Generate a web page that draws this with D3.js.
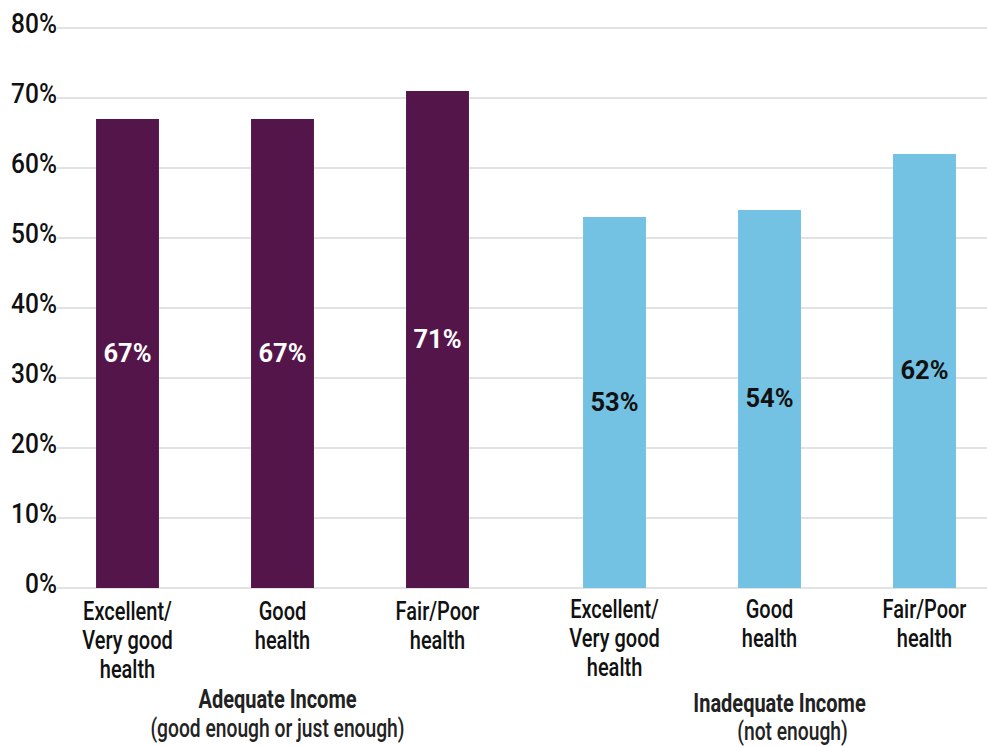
<!DOCTYPE html>
<html>
<head>
<meta charset="utf-8">
<script src="https://cdn.jsdelivr.net/npm/d3@7"></script>
<style>
  html, body { margin: 0; padding: 0; background: #fff; }
  svg text { font-family: "Roboto", "DejaVu Sans Condensed", sans-serif; }
</style>
</head>
<body>
<svg id="chart" width="987" height="747"></svg>
<script>
// Share of respondents, by income adequacy and self-rated health
const groups = ["Adequate Income", "Inadequate Income"];
const groupNotes = ["(good enough or just enough)", "(not enough)"];
const categories = ["Excellent/\nVery good\nhealth", "Good\nhealth", "Fair/Poor\nhealth"];
const adequateValues = [67, 67, 71];
const inadequateValues = [53, 54, 62];
const yTicks = [0, 10, 20, 30, 40, 50, 60, 70, 80];

const seriesValues = [adequateValues, inadequateValues];
const barColors = ["#54164a", "#74c2e3"];
const labelColors = ["#ffffff", "#111111"];

const svg = d3.select("#chart");
const plotLeft = 57, plotRight = 987, plotTop = 28, plotBottom = 588;

const y = d3.scaleLinear().domain([0, 80]).range([plotBottom, plotTop]);

// Outer scale places the two income groups, inner scale the health categories
const xGroup = d3.scaleBand().domain(groups).range([50, 1002]).paddingInner(0.0452).paddingOuter(0);
const xCat = d3.scaleBand().domain(categories).range([0, xGroup.bandwidth()])
  .paddingInner(0.594).paddingOuter(0.297);

// Condensed text: Roboto squeezed horizontally around its anchor point
function condensedText(parent, x, yPos, sx) {
  return parent.append("text")
    .attr("transform", `translate(${x},${yPos}) scale(${sx},1)`);
}

// Gridlines
svg.append("g")
  .selectAll("line")
  .data(yTicks)
  .join("line")
  .attr("x1", plotLeft).attr("x2", plotRight)
  .attr("y1", d => y(d)).attr("y2", d => y(d))
  .attr("stroke", "#d9d9d9").attr("stroke-width", 1.5);

// Y axis labels
const yAxisG = svg.append("g");
yTicks.forEach(t => {
  condensedText(yAxisG, plotLeft, y(t) + 4.5, 0.86)
    .attr("text-anchor", "end")
    .attr("font-size", 28.5)
    .attr("font-weight", 500)
    .attr("fill", "#111")
    .text(t + "%");
});

groups.forEach((g, gi) => {
  const gx = xGroup(g);
  const vals = seriesValues[gi];
  const gSel = svg.append("g");

  // Bars
  gSel.selectAll("rect")
    .data(categories)
    .join("rect")
    .attr("x", c => gx + xCat(c))
    .attr("width", xCat.bandwidth())
    .attr("y", (c, i) => y(vals[i]))
    .attr("height", (c, i) => y(0) - y(vals[i]))
    .attr("fill", barColors[gi]);

  categories.forEach((c, i) => {
    const cx = gx + xCat(c) + xCat.bandwidth() / 2;

    // Value label centred in the bar
    condensedText(gSel, cx, (y(vals[i]) + y(0)) / 2 + 8, 0.98)
      .attr("text-anchor", "middle")
      .attr("font-size", 26)
      .attr("font-weight", "bold")
      .attr("fill", labelColors[gi])
      .text(vals[i] + "%");

    // Category label, one tspan per line
    const t = condensedText(gSel, cx, 620 - gi * 2, 0.8)
      .attr("text-anchor", "middle")
      .attr("font-size", 25)
      .attr("font-weight", 500)
      .attr("fill", "#111");
    t.selectAll("tspan")
      .data(c.split("\n"))
      .join("tspan")
      .attr("x", 0)
      .attr("dy", (d, k) => k === 0 ? 0 : 29)
      .text(d => d);
  });

  // Group title and note
  const gc = gx + xGroup.bandwidth() / 2;
  condensedText(svg, gc + (gi === 0 ? -5 : 10), 708 + gi * 4, 0.8)
    .attr("text-anchor", "middle")
    .attr("font-size", 25)
    .attr("font-weight", "bold")
    .attr("fill", "#222")
    .text(g);
  condensedText(svg, gc + (gi === 0 ? -5 : 23), 737 + gi * 3, 0.77)
    .attr("text-anchor", "middle")
    .attr("font-size", 25)
    .attr("font-weight", 500)
    .attr("fill", "#222")
    .text(groupNotes[gi]);
});
</script>
</body>
</html>
